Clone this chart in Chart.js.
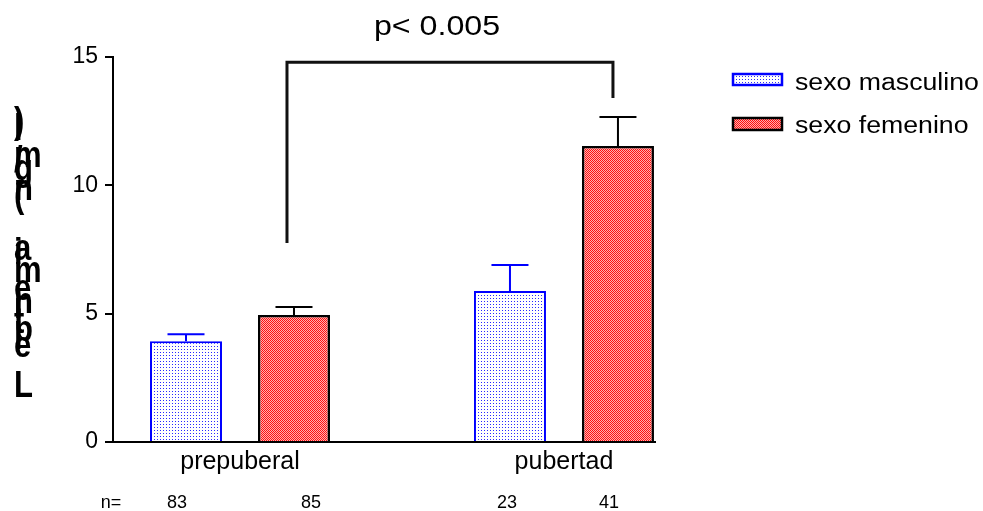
<!DOCTYPE html>
<html><head><meta charset="utf-8">
<script src="https://cdn.jsdelivr.net/npm/chart.js@4"></script>
<style>html,body{margin:0;padding:0;background:#fff}#wrap{width:983px;height:511px}</style>
</head><body><div id="wrap"><canvas id="c" width="983" height="511"></canvas></div>
<script>
// ---- data ----
const categories = ['prepuberal', 'pubertad'];
const seriesNames = ['sexo masculino', 'sexo femenino'];
const masculino = [3.93, 5.88];
const femenino = [4.95, 11.53];
const errMasculino = [0.27, 1.02];
const errFemenino = [0.31, 1.13];
const nMasculino = [83, 23];
const nFemenino = [85, 41];
const yTicks = [0, 5, 10, 15];
const yTitle = 'Leptinemia (ng/ml)';
const pText = 'p< 0.005';
const bracketVals = [14.8, 7.75, 13.4]; // top, left end, right end

// ---- styles ----
const FONT = "'Liberation Sans', Arial, sans-serif";
const canvas = document.getElementById('c');
const ctx = canvas.getContext('2d');

function makeBlue() {
  const c = document.createElement('canvas'); c.width = 3; c.height = 3;
  const g = c.getContext('2d');
  g.fillStyle = '#ffffff'; g.fillRect(0, 0, 3, 3);
  g.fillStyle = '#2a2aff'; g.fillRect(1, 1, 1, 1);
  return ctx.createPattern(c, 'repeat');
}
function makeRed() {
  const c = document.createElement('canvas'); c.width = 2; c.height = 2;
  const g = c.getContext('2d');
  g.fillStyle = '#ffb0b0'; g.fillRect(0, 0, 2, 2);
  g.fillStyle = '#ff1010'; g.fillRect(0, 0, 1, 1); g.fillRect(1, 1, 1, 1);
  return ctx.createPattern(c, 'repeat');
}
const bluePat = makeBlue();
const redPat = makeRed();

const errorBars = {
  id: 'errorBars',
  afterDatasetsDraw(chart) {
    const c = chart.ctx, ys = chart.scales.y;
    chart.data.datasets.forEach((ds, di) => {
      const meta = chart.getDatasetMeta(di);
      meta.data.forEach((el, i) => {
        const top = ys.getPixelForValue(ds.data[i].y + ds.err[i]);
        c.save();
        c.strokeStyle = ds.errColor; c.lineWidth = 2;
        c.beginPath();
        c.moveTo(el.x, el.y); c.lineTo(el.x, top);
        c.moveTo(el.x - 18.5, top); c.lineTo(el.x + 18.5, top);
        c.stroke();
        c.restore();
      });
    });
  }
};

const extras = {
  id: 'extras',
  afterDraw(chart) {
    const c = chart.ctx, ys = chart.scales.y;
    const mF = chart.getDatasetMeta(1), mM = chart.getDatasetMeta(0);
    // bracket
    const xl = mF.data[0].x - 7, xr = mF.data[1].x - 5;
    c.save();
    c.strokeStyle = '#111'; c.lineWidth = 3; c.lineJoin = 'miter';
    c.beginPath();
    c.moveTo(xl, ys.getPixelForValue(bracketVals[1]));
    c.lineTo(xl, ys.getPixelForValue(bracketVals[0]));
    c.lineTo(xr, ys.getPixelForValue(bracketVals[0]));
    c.lineTo(xr, ys.getPixelForValue(bracketVals[2]));
    c.stroke();
    // p text
    c.fillStyle = '#000';
    c.font = '28px ' + FONT;
    c.textAlign = 'center'; c.textBaseline = 'alphabetic';
    c.save(); c.translate(437, 35); c.scale(1.15, 1); c.fillText(pText, 0, 0); c.restore();
    // n row
    c.font = '18px ' + FONT;
    c.fillText('n=', 111, 508);
    const offs = [[-9, 17], [-3, -9]];
    for (let i = 0; i < categories.length; i++) {
      c.fillText(String(nMasculino[i]), mM.data[i].x + offs[i][0], 508);
      c.fillText(String(nFemenino[i]), mF.data[i].x + offs[i][1], 508);
    }
    // y title (stacked characters)
    const base = [397, 357, 341, 333, 318, 313, 300, 282, 264, 260, 0, 207, 200, 180, 172, 167, 140, 133];
    c.font = 'bold 27px ' + FONT;
    c.textAlign = 'left';
    for (let i = 0; i < yTitle.length; i++) {
      if (yTitle[i] === ' ') continue;
      c.save(); c.translate(14, base[i]); c.scale(1.15, 1.35);
      c.fillText(yTitle[i], 0, 0);
      c.restore();
    }
    // legend
    const boxes = [[73, 13], [117, 14]];
    chart.data.datasets.forEach((ds, di) => {
      const [by, bh] = boxes[di];
      c.fillStyle = ds.backgroundColor;
      c.fillRect(732, by, 51, bh);
      c.strokeStyle = ds.borderColor; c.lineWidth = 2.5;
      c.strokeRect(733, by + 1, 49, bh - 2);
      c.fillStyle = '#000';
      c.font = '23px ' + FONT;
      c.save(); c.translate(795, di === 0 ? 90 : 133); c.scale(1.16, 1);
      c.fillText(ds.label, 0, 0); c.restore();
    });
    c.restore();
  }
};

new Chart(ctx, {
  type: 'bar',
  data: {
    datasets: [
      { label: seriesNames[0], data: masculino.map((v, i) => ({ x: i + 1, y: v })), err: errMasculino,
        backgroundColor: bluePat, borderColor: '#0000ff', borderWidth: 2, errColor: '#0000ff',
        categoryPercentage: 2 / 3, barPercentage: 2 / 3 },
      { label: seriesNames[1], data: femenino.map((v, i) => ({ x: i + 1, y: v })), err: errFemenino,
        backgroundColor: redPat, borderColor: '#000000', borderWidth: 2.5, errColor: '#000000',
        categoryPercentage: 2 / 3, barPercentage: 2 / 3 }
    ]
  },
  options: {
    responsive: false, animation: false, devicePixelRatio: 1,
    layout: { padding: { top: 57, right: 328, bottom: 0, left: 0 } },
    plugins: { legend: { display: false }, tooltip: { enabled: false } },
    scales: {
      x: {
        type: 'linear', min: 0.608, max: 2.281, offset: false,
        grid: { display: false, drawTicks: false },
        border: { display: true, color: '#000', width: 2 },
        ticks: { padding: 5, color: '#000', font: { family: FONT, size: 25 }, autoSkip: false, maxRotation: 0,
          callback: (v) => categories[v - 1] },
        afterBuildTicks: (s) => { s.ticks = categories.map((c, i) => ({ value: i + 1 })); },
        afterFit: (s) => { s.height = 69; }
      },
      y: {
        min: 0, max: 15,
        afterBuildTicks: (s) => { s.ticks = yTicks.map(v => ({ value: v })); },
        ticks: { padding: 7, color: '#000', font: { family: FONT, size: 23 } },
        grid: { drawOnChartArea: false, drawTicks: true, tickLength: 8, color: '#000', lineWidth: 2 },
        border: { display: true, color: '#000', width: 2 },
        afterFit: (s) => { s.width = 113; }
      }
    }
  },
  plugins: [errorBars, extras]
});
</script>
</body></html>
